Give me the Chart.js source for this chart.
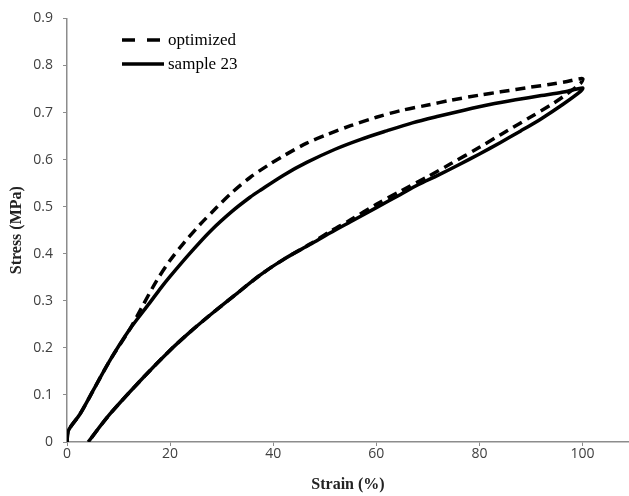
<!DOCTYPE html>
<html>
<head>
<meta charset="utf-8">
<script src="https://cdn.jsdelivr.net/npm/chart.js@4"></script>
<style>
    body { margin: 0; background: #fff; }
    #wrap { position: relative; width: 629px; height: 496px; }
    #legend { position: absolute; left: 120px; top: 28px; font-family: "Liberation Serif", serif; font-size: 17px; color: #000; }
    #legend div { height: 24px; display: flex; align-items: center; }
    #legend svg { margin-right: 4px; }
</style>
</head>
<body>
<div id="wrap">
    <canvas id="stress-chart" width="629" height="496"></canvas>
    <div id="legend">
        <div><svg width="44" height="6"><line x1="2" y1="3" x2="44" y2="3" stroke="#000" stroke-width="3.5" stroke-dasharray="13,12"/></svg>optimized</div>
        <div><svg width="44" height="6"><line x1="2" y1="3" x2="44" y2="3" stroke="#000" stroke-width="3.5"/></svg>sample 23</div>
    </div>
</div>
<script>
// optimized: loading then unloading
const optStrain = [0, 0.3, 2.5, 5.1, 8.3, 12.2, 14.5, 17.4, 20, 22.6, 25.8, 29, 32, 35.5, 39, 42, 46.5, 50.4, 55, 60, 64.7, 70, 74.4, 80, 84.1, 90, 93.8, 97, 100,
    99.6, 96, 93.8, 90, 84.1, 80, 74.4, 70, 64.7, 60, 55, 51, 47.2, 42, 37.5, 33, 28, 24, 20, 14.8, 8.3, 4.1]
const optStress = [0, 0.025, 0.059, 0.11, 0.173, 0.24, 0.286, 0.343, 0.386, 0.422, 0.462, 0.498, 0.53, 0.562, 0.588, 0.608, 0.635, 0.653, 0.672, 0.69, 0.704, 0.716, 0.726, 0.737, 0.744, 0.754, 0.76, 0.766, 0.772,
    0.762, 0.732, 0.716, 0.691, 0.653, 0.626, 0.591, 0.564, 0.533, 0.505, 0.472, 0.447, 0.421, 0.388, 0.355, 0.316, 0.272, 0.235, 0.195, 0.137, 0.059, 0]

// sample 23: loading then unloading
const sampleStrain = [0, 0.3, 2.5, 5.1, 8.3, 12.2, 16, 18.1, 20, 24, 27.8, 32, 35.5, 37.5, 42, 46.5, 52, 57, 62, 67, 72, 77, 82, 87, 92, 96, 100,
    99.6, 96, 92, 88, 84, 80, 76, 72, 68, 64.7, 60, 55, 51, 47.2, 42, 37.5, 33, 28, 24, 20, 14.8, 8.3, 4.1]
const sampleStress = [0, 0.025, 0.059, 0.11, 0.173, 0.24, 0.295, 0.326, 0.352, 0.403, 0.448, 0.49, 0.52, 0.535, 0.567, 0.594, 0.622, 0.643, 0.661, 0.678, 0.692, 0.705, 0.717, 0.727, 0.736, 0.743, 0.752,
    0.745, 0.716, 0.687, 0.661, 0.636, 0.612, 0.589, 0.567, 0.546, 0.526, 0.498, 0.468, 0.444, 0.42, 0.388, 0.355, 0.316, 0.272, 0.235, 0.195, 0.137, 0.059, 0]

const xTicks = [0, 20, 40, 60, 80, 100]

function toPoints(xs, ys) {
    return xs.map((x, i) => ({ x: x, y: ys[i] }))
}

const axisColor = '#8c8c8c'
const tickFont = { family: 'Open Sans', size: 14 }
const titleFont = { family: 'Liberation Serif', size: 16, weight: 'bold' }

const ctx = document.getElementById('stress-chart');
const myChart = new Chart(ctx, {
    type: 'scatter',
    data: {
        datasets: [{
            label: 'optimized',
            data: toPoints(optStrain, optStress),
            showLine: true,
            borderColor: '#000',
            borderWidth: 3.5,
            borderDash: [10, 6],
            pointRadius: 0,
            tension: 0.3
        }, {
            label: 'sample 23',
            data: toPoints(sampleStrain, sampleStress),
            showLine: true,
            borderColor: '#000',
            borderWidth: 3.5,
            pointRadius: 0,
            tension: 0.3
        }]
    },
    options: {
        responsive: false,
        animation: false,
        layout: {
            padding: { top: 18, right: 0, left: 7, bottom: 2 }
        },
        scales: {
            x: {
                type: 'linear',
                min: 0,
                max: 109,
                afterBuildTicks: axis => {
                    axis.ticks = xTicks.map(v => ({ value: v }))
                },
                grid: { drawOnChartArea: false, color: axisColor, tickLength: 4 },
                border: { color: axisColor, width: 1.5 },
                ticks: { color: '#404040', font: tickFont, padding: 0 },
                title: { display: true, text: 'Strain (%)', color: '#222', font: titleFont, padding: { top: 12, bottom: 0 } }
            },
            y: {
                min: 0,
                max: 0.9,
                afterFit: axis => {
                    axis.width = 60
                },
                ticks: { stepSize: 0.1, color: '#404040', font: tickFont, padding: 10 },
                grid: { drawOnChartArea: false, color: axisColor, tickLength: 4 },
                border: { color: axisColor, width: 1.5 },
                title: { display: true, text: 'Stress (MPa)', color: '#222', font: titleFont, padding: { top: 0, bottom: 6 } }
            }
        },
        plugins: {
            legend: { display: false },
            tooltip: { enabled: false }
        }
    }
});
</script>
</body>
</html>
